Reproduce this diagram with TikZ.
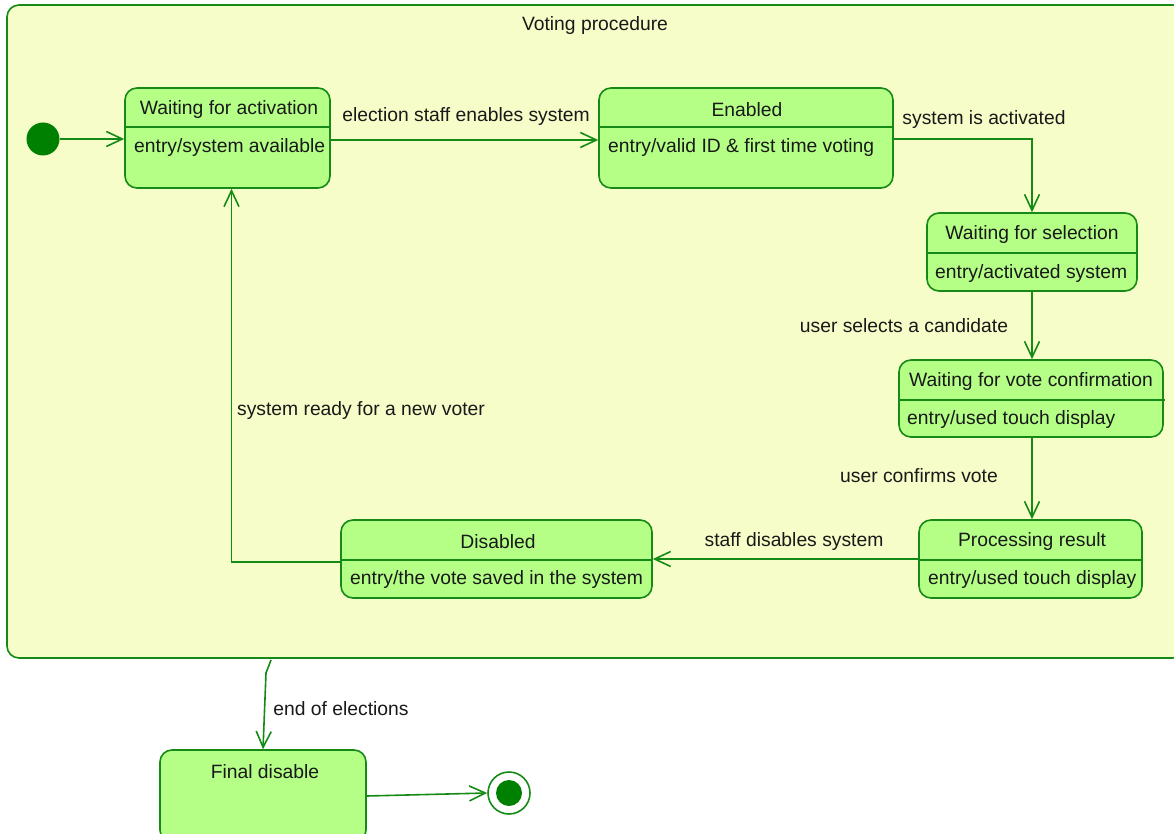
\documentclass[tikz,border=0pt]{standalone}
\usepackage{fontspec}
\setmainfont{Liberation Sans}
\usetikzlibrary{arrows.meta,positioning}

\definecolor{umlgreen}{RGB}{22,138,22}
\definecolor{dotgreen}{RGB}{0,128,0}
\definecolor{statefill}{RGB}{181,255,135}
\definecolor{regionfill}{RGB}{247,253,200}
\definecolor{ink}{RGB}{25,25,25}

\tikzset{
  region/.style={draw=umlgreen, fill=regionfill, line width=1.6pt, rounded corners=12pt},
  statebox/.style={draw=umlgreen, fill=statefill, line width=1.6pt, rounded corners=12pt,
                   inner sep=0pt},
  divider/.style={draw=umlgreen, line width=1.6pt},
  lbl/.style={text=ink, font=\fontsize{19.3}{21}\selectfont, inner sep=0pt, yshift=-2pt},
  tr/.style={draw=umlgreen, line width=1.6pt,
             -{Straight Barb[length=16pt,width=15pt,line width=1.6pt]}},
}

\begin{document}
\begin{tikzpicture}[x=1pt,y=-1pt]
  \useasboundingbox (0,0) rectangle (1174,834);
  \fill[white] (0,0) rectangle (1174,834);

  % composite state
  \draw[region] (7,5) rectangle (1185,658);
  \node[lbl] (vptitle) at (595,24) {Voting procedure};
  \coordinate (vpexit) at (271,660);

  % pseudo states
  \node[circle, fill=dotgreen, minimum size=33pt, inner sep=0pt] (init) at (43,139) {};
  \node[circle, draw=umlgreen, fill=white, line width=1.6pt, minimum size=42pt, inner sep=0pt] (fin) at (509,793) {};
  \node[circle, fill=dotgreen, minimum size=26pt, inner sep=0pt] at (fin) {};

  % Waiting for activation
  \node[statebox, minimum width=205pt, minimum height=100pt] (wa) at (227.5,138) {};
  \draw[divider] (125,127) -- (331,127);
  \node[lbl] (wat) at (229,108) {Waiting for activation};
  \node[lbl, anchor=west] (wae) at (134,146) {entry/system available};

  % Enabled
  \node[statebox, minimum width=294pt, minimum height=100pt] (en) at (746,138) {};
  \draw[divider] (599,127) -- (894,127);
  \node[lbl] (ent) at (747,108) {Enabled};
  \node[lbl, anchor=west] (ene) at (608,146) {entry/valid ID \& first time voting};

  % Waiting for selection
  \node[statebox, minimum width=210pt, minimum height=78pt] (wfs) at (1032,252) {};
  \draw[divider] (927,253) -- (1138,253);
  \node[lbl] (wfst) at (1032,233) {Waiting for selection};
  \node[lbl, anchor=west] (wfse) at (935,272) {entry/activated system};

  % Waiting for vote confirmation
  \node[statebox, minimum width=264pt, minimum height=77pt] (wvc) at (1031,398.5) {};
  \draw[divider] (899,400) -- (1165,400);
  \node[lbl] (wvct) at (1031,380) {Waiting for vote confirmation};
  \node[lbl, anchor=west] (wvce) at (907,418) {entry/used touch display};

  % Processing result
  \node[statebox, minimum width=223pt, minimum height=78pt] (pr) at (1030.5,559) {};
  \draw[divider] (919,560) -- (1143,560);
  \node[lbl] (prt) at (1032,540) {Processing result};
  \node[lbl, anchor=west] (pre) at (928,578) {entry/used touch display};

  % Disabled
  \node[statebox, minimum width=311pt, minimum height=78pt] (dis) at (496.5,559) {};
  \draw[divider] (341,560) -- (652,560);
  \node[lbl] (dist) at (498,540) {Disabled};
  \node[lbl, anchor=west] (dise) at (350,578) {entry/the vote saved in the system};

  % Final disable
  \node[statebox, minimum width=206pt, minimum height=92pt] (fd) at (263,796) {};
  \node[lbl] (fdt) at (265,770) {Final disable};

  % transitions
  \draw[tr] (init.east) -- (wa.west |- init.east);
  \draw[tr] ([yshift=-2pt]wa.east) -- ([yshift=-2pt]en.west);
  \node[lbl] (l1) at (466,115) {election staff enables system};
  \draw[tr] ([yshift=-1pt]en.east) -| (wfs.north);
  \node[lbl] (l2) at (984,118) {system is activated};
  \draw[tr] (wfs.south) -- (wfs.south |- wvc.north);
  \node[lbl] (l3) at (904,324) {user selects a candidate};
  \draw[tr] (wvc.south -| wfs.south) -- (wfs.south |- pr.north);
  \node[lbl] (l4) at (919,474) {user confirms vote};
  \draw[tr] (pr.west) -- (dis.east);
  \node[lbl] (l5) at (794,540) {staff disables system};
  \draw[tr] ([yshift=-3pt]dis.west) -| ([xshift=4pt]wa.south);
  \node[lbl] (l6) at (361,409) {system ready for a new voter};
  \draw[tr] (vpexit) -- (266,673) -- (fd.north);
  \node[lbl] (l7) at (341,707) {end of elections};
  \draw[tr] (fd.east) -- (fin.west);
\end{tikzpicture}
\end{document}
